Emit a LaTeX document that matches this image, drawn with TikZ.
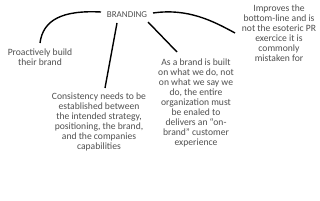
\documentclass[tikz,border=0pt]{standalone}
\usepackage{fontspec}
\setmainfont{Carlito}
\definecolor{txt}{HTML}{505050}
\begin{document}
\begin{tikzpicture}[x=1pt,y=-1pt,
  lbl/.style={align=center,inner sep=0pt,text=txt,font=\fontsize{9.6}{10}\selectfont},
  conn/.style={line width=1.4pt,black}]
\useasboundingbox[fill=white] (0,0) rectangle (320,200);
\node[lbl,font=\fontsize{9}{10}\selectfont] (brand) at (127,15) {BRANDING};
\node[lbl] (pro) at (40,57) {Proactively build\\their brand};
\node[lbl] (cons) at (99,122) {Consistency needs to be\\established between\\the intended strategy,\\positioning, the brand,\\and the companies\\capabilities};
\node[lbl] (asb) at (196,103) {As a brand is built\\on what we do, not\\on what we say we\\do, the entire\\organization must\\be enaled to\\delivers an ``on-\\brand'' customer\\experience};
\node[lbl] (imp) at (279,33) {Improves the\\bottom-line and is\\not the esoteric PR\\exercice it is\\commonly\\mistaken for};
\coordinate (a1) at (101,12);
\coordinate (e1) at (40,43);
\coordinate (a2) at (117,23);
\coordinate (e2) at (105,88);
\coordinate (a3) at (148,22);
\coordinate (e3) at (177,52);
\coordinate (a4) at (153,13);
\coordinate (e4) at (235,33);
\draw[conn] (a1) .. controls (62,10) and (43,20) .. (e1);
\draw[conn] (a2) -- (e2);
\draw[conn] (a3) -- (e3);
\draw[conn] (a4) .. controls (188,8) and (213,21) .. (e4);
\end{tikzpicture}
\end{document}
